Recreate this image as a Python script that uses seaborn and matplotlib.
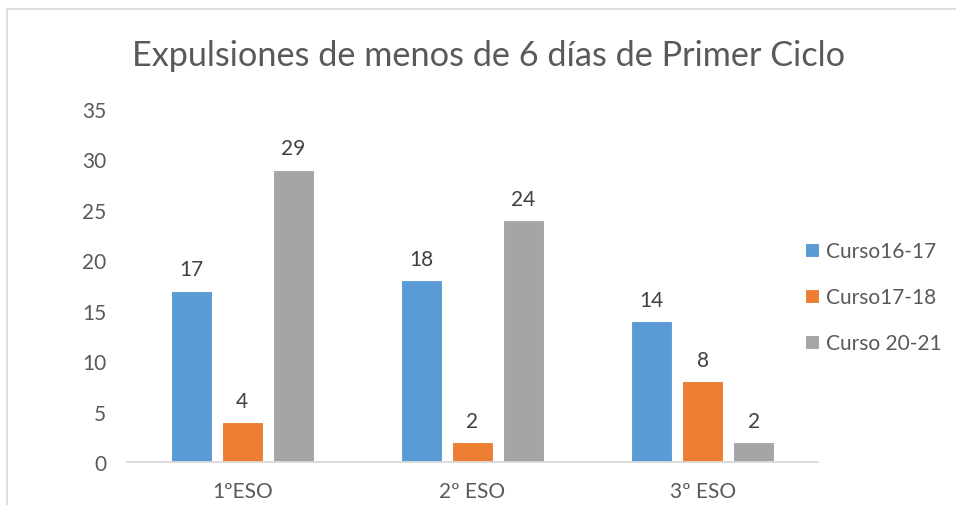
import matplotlib
matplotlib.use("Agg")
import matplotlib.pyplot as plt
import seaborn as sns
import pandas as pd
from matplotlib.patches import Rectangle

categories = ["1ºESO", "2º ESO", "3º ESO"]
series_names = ["Curso16-17", "Curso17-18", "Curso 20-21"]
curso_16_17 = [17, 18, 14]
curso_17_18 = [4, 2, 8]
curso_20_21 = [29, 24, 2]
title = "Expulsiones de menos de 6 días de Primer Ciclo"
yticks = [0, 5, 10, 15, 20, 25, 30, 35]

colors = ["#5B9BD5", "#ED7D31", "#A5A5A5"]

df = pd.DataFrame({
    "cat": categories * 3,
    "serie": [series_names[0]] * 3 + [series_names[1]] * 3 + [series_names[2]] * 3,
    "val": curso_16_17 + curso_17_18 + curso_20_21,
})

sns.set_theme(style="white")
plt.rcParams["font.family"] = ["Lato", "DejaVu Sans"]

W, H = 956, 506
fig = plt.figure(figsize=(W / 100, H / 100), dpi=100)
fig.patch.set_facecolor("white")

# outer chart frame
fig.patches.append(Rectangle((7 / W, -0.1), 1.2, 1 - 10 / H + 0.1, transform=fig.transFigure,
                             fill=False, edgecolor="#D9D9D9", linewidth=1.2, zorder=0))

ax = fig.add_axes([127 / W, 1 - 463 / H, (818 - 127) / W, (463 - 110) / H])
sns.barplot(data=df, x="cat", y="val", hue="serie", palette=colors, order=categories,
            hue_order=series_names, width=0.664, gap=0.196, ax=ax, legend=True,
            edgecolor="white", linewidth=0.8, saturation=1)

ax.set_xlim(-0.5, 2.5)
ax.set_ylim(0, 35)
ax.set_yticks(yticks)
ax.set_xlabel("")
ax.set_ylabel("")
for s in ["top", "right", "left"]:
    ax.spines[s].set_visible(False)
ax.spines["bottom"].set_color("#D9D9D9")
ax.spines["bottom"].set_linewidth(1.3)
ax.tick_params(axis="both", length=0, colors="#595959", labelsize=15)
ax.tick_params(axis="y", pad=15)
ax.tick_params(axis="x", pad=14)

for cont in ax.containers:
    ax.bar_label(cont, padding=8, fontsize=15, color="#404040")

fig.text(489 / W, 1 - 56 / H, title, fontsize=24.7, color="#595959", ha="center", va="center")

leg = ax.legend(loc="upper left", bbox_to_anchor=(797 / W, 1 - 234 / H), bbox_transform=fig.transFigure,
                frameon=False, fontsize=15, handlelength=0.65, handleheight=0.65,
                handletextpad=0.35, labelspacing=1.25, labelcolor="#595959", borderaxespad=0)

fig.savefig("out.png", dpi=100)
